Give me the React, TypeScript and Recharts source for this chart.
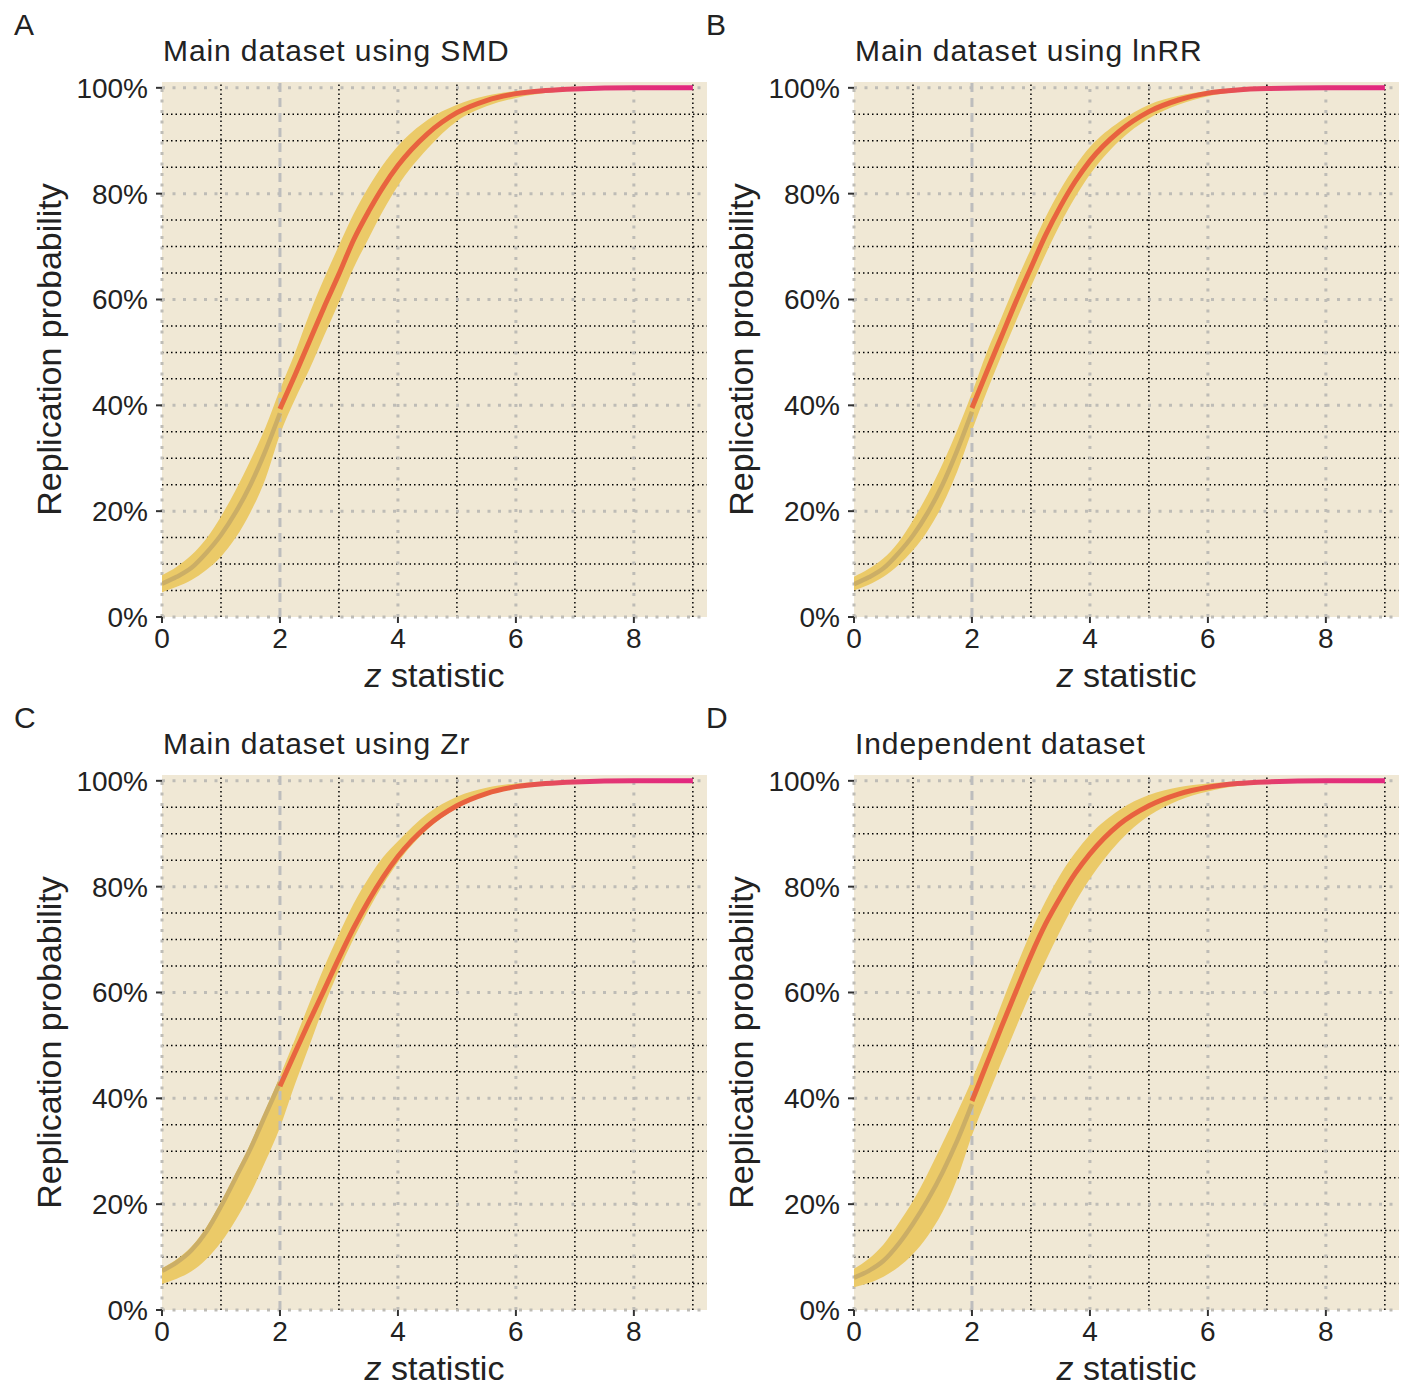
import {
  Area,
  CartesianGrid,
  ComposedChart,
  Label,
  Line,
  ReferenceLine,
  XAxis,
  YAxis,
} from "recharts";

const FONT = '"Liberation Sans", Arial, Helvetica, sans-serif';
const INK = "#222222";

// z statistic grid the curves were read at
const Z = [0, 0.25, 0.5, 0.75, 1, 1.25, 1.5, 1.75, 2, 2.25, 2.5, 2.75, 3, 3.25, 3.5, 3.75, 4, 4.5, 5, 5.5, 6, 6.5, 7, 8, 9];
const CUTOFF = 2; // index 8 in Z

const X_TICKS = [0, 2, 4, 6, 8];
const Y_TICKS = [0, 20, 40, 60, 80, 100];
const MAJOR_X = [0, 4, 6, 8];
const MINOR_X = [1, 3, 5, 7, 9];
const MAJOR_Y = [0, 20, 40, 60, 80, 100];
const MINOR_Y = [5, 10, 15, 25, 30, 35, 45, 50, 55, 65, 70, 75, 85, 90, 95];

// A: main dataset, SMD (percent)
const smdBelow = [6.3, 7.6, 9.3, 12.1, 15.5, 19.8, 25.0, 31.3, 38.5];
const smdAbove = [39.3, 45.6, 52.1, 58.6, 64.8, 71.3, 76.6, 81.3, 85.3, 91.3, 95.3, 97.6, 98.9, 99.5, 99.8, 100, 100];
const smdLow = [4.7, 5.7, 7.0, 8.9, 11.4, 15.0, 19.8, 26.0, 34.5, 41.0, 46.8, 53.2, 59.5, 66.0, 71.5, 76.8, 81.5, 88.5, 93.7, 96.5, 98.1, 99.0, 99.5, 99.9, 100];
const smdHigh = [7.9, 9.5, 11.7, 14.8, 19.0, 24.0, 29.6, 35.7, 43.0, 49.8, 57.3, 64.0, 70.2, 76.2, 81.2, 85.5, 89.0, 93.9, 96.8, 98.5, 99.4, 99.8, 99.95, 100, 100];

// B: main dataset, lnRR
const lnrrBelow = [6.2, 7.5, 9.2, 12.0, 15.4, 19.7, 25.0, 31.5, 38.8];
const lnrrAbove = [39.5, 46.3, 53.0, 59.7, 66.0, 72.2, 77.6, 82.3, 86.2, 91.8, 95.5, 97.7, 99.0, 99.6, 99.85, 100, 100];
const lnrrLow = [5.0, 6.1, 7.6, 9.8, 12.6, 16.3, 21.2, 27.5, 35.2, 42.5, 49.4, 56.0, 62.4, 68.6, 74.3, 79.3, 83.6, 90.0, 94.2, 96.8, 98.4, 99.2, 99.6, 99.9, 100];
const lnrrHigh = [7.6, 9.1, 11.1, 14.1, 18.3, 23.2, 28.9, 35.3, 42.4, 50.0, 56.6, 63.3, 69.6, 75.6, 80.8, 85.2, 88.8, 93.6, 96.8, 98.5, 99.4, 99.8, 99.95, 100, 100];

// C: main dataset, Zr
const zrBelow = [7.4, 9.0, 11.3, 14.8, 19.6, 25.0, 30.5, 36.8, 43.0];
const zrAbove = [42.3, 48.5, 54.6, 60.5, 66.5, 72.2, 77.3, 81.8, 85.7, 91.5, 95.3, 97.6, 98.9, 99.5, 99.8, 100, 100];
const zrLow = [4.9, 5.9, 7.3, 9.6, 12.8, 17.0, 22.0, 28.0, 34.5, 42.5, 50.0, 57.5, 64.2, 70.2, 75.6, 80.4, 84.6, 90.8, 94.8, 97.3, 98.7, 99.4, 99.75, 99.95, 100];
const zrHigh = [7.9, 9.6, 12.0, 15.6, 20.4, 25.8, 31.4, 37.6, 44.2, 51.0, 58.0, 64.8, 71.0, 76.8, 81.6, 85.6, 88.6, 93.8, 97.0, 98.7, 99.5, 99.85, 99.95, 100, 100];

// D: independent dataset
const indBelow = [6.1, 7.4, 9.3, 12.4, 16.3, 20.8, 26.0, 32.0, 38.9];
const indAbove = [39.5, 46.5, 53.5, 60.3, 67.0, 73.0, 78.0, 82.5, 86.2, 91.8, 95.3, 97.5, 98.8, 99.5, 99.8, 100, 100];
const indLow = [4.3, 5.1, 6.3, 8.1, 10.6, 14.0, 18.5, 24.8, 33.0, 40.0, 46.8, 53.5, 60.0, 66.0, 71.7, 77.0, 81.5, 88.6, 93.4, 96.3, 98.0, 99.0, 99.5, 99.9, 100];
const indHigh = [7.8, 9.7, 12.4, 16.3, 20.6, 25.8, 31.5, 37.3, 43.5, 50.5, 57.8, 64.8, 71.5, 77.3, 82.3, 86.4, 89.8, 94.5, 97.3, 98.8, 99.5, 99.85, 99.95, 100, 100];

interface Row {
  z: number;
  lo: number;
  hi: number;
  below: number | null;
  above: number | null;
}

function buildRows(below: number[], above: number[], lo: number[], hi: number[]): Row[] {
  const cut = Z.indexOf(CUTOFF);
  return Z.map((z, i) => ({
    z,
    lo: lo[i]!,
    hi: hi[i]!,
    below: i <= cut ? below[i]! : null,
    above: i >= cut ? above[i - cut]! : null,
  }));
}

const PANELS = [
  { id: "A", title: "Main dataset using SMD", rows: buildRows(smdBelow, smdAbove, smdLow, smdHigh), left: 0, top: 0 },
  { id: "B", title: "Main dataset using lnRR", rows: buildRows(lnrrBelow, lnrrAbove, lnrrLow, lnrrHigh), left: 692, top: 0 },
  { id: "C", title: "Main dataset using Zr", rows: buildRows(zrBelow, zrAbove, zrLow, zrHigh), left: 0, top: 693 },
  { id: "D", title: "Independent dataset", rows: buildRows(indBelow, indAbove, indLow, indHigh), left: 692, top: 693 },
];

const W = 710;
const H = 693;

function XTitle(props: any) {
  const vb = props.viewBox ?? {};
  const cx = (vb.x ?? 162) + (vb.width ?? 545) / 2;
  const y = (vb.y ?? 617) + 70;
  return (
    <text x={cx} y={y} textAnchor="middle" fontSize={34} fill={INK} fontFamily={FONT}>
      <tspan fontStyle="italic">z</tspan>
      {" statistic"}
    </text>
  );
}

function YTitle(props: any) {
  const vb = props.viewBox ?? {};
  const x = (vb.x ?? 0) + 61;
  const cy = (vb.y ?? 82) + (vb.height ?? 535) / 2;
  return (
    <text
      x={x}
      y={cy}
      textAnchor="middle"
      fontSize={34}
      fill={INK}
      fontFamily={FONT}
      transform={`rotate(-90, ${x}, ${cy})`}
    >
      Replication probability
    </text>
  );
}

function Panel({ id, title, rows, left, top }: (typeof PANELS)[number]) {
  const gradId = `above-${id}`;
  return (
    <div style={{ position: "absolute", left, top, width: W, height: H }}>
      <div
        style={{
          position: "absolute",
          left: 14,
          top: 10,
          fontFamily: FONT,
          fontSize: 30,
          lineHeight: "30px",
          color: INK,
        }}
      >
        {id}
      </div>
      <div
        style={{
          position: "absolute",
          left: 163,
          top: 36,
          fontFamily: FONT,
          fontSize: 30,
          lineHeight: "30px",
          letterSpacing: 0.9,
          color: INK,
          whiteSpace: "nowrap",
        }}
      >
        {title}
      </div>
      <ComposedChart
        width={W}
        height={H}
        data={rows}
        margin={{ top: 82, right: 3, bottom: 0, left: 0 }}
        style={{ position: "absolute", left: 0, top: 0 }}
      >
        <defs>
          <linearGradient id={gradId} x1="0" y1="0" x2="1" y2="0">
            <stop offset="0" stopColor="#E8663F" />
            <stop offset="0.55" stopColor="#E8603F" />
            <stop offset="0.75" stopColor="#E33A72" />
            <stop offset="1" stopColor="#E2267F" />
          </linearGradient>
        </defs>
        <CartesianGrid fill="#F0E8D5" fillOpacity={1} stroke="none" horizontal={false} vertical={false} />
        {MINOR_Y.map((v) => (
          <ReferenceLine key={`my${v}`} y={v} stroke="#000" strokeWidth={1.5} strokeDasharray="1.5 3" zIndex={-40} />
        ))}
        {MINOR_X.map((v) => (
          <ReferenceLine key={`mx${v}`} x={v} stroke="#000" strokeWidth={1.5} strokeDasharray="1.5 3" zIndex={-40} />
        ))}
        {MAJOR_Y.map((v) => (
          <ReferenceLine key={`My${v}`} y={v} stroke="#BEBCB6" strokeWidth={3} strokeDasharray="3 7.5" zIndex={-30} />
        ))}
        {MAJOR_X.map((v) => (
          <ReferenceLine key={`Mx${v}`} x={v} stroke="#BEBCB6" strokeWidth={3} strokeDasharray="3 7.5" zIndex={-30} />
        ))}
        <XAxis
          dataKey="z"
          type="number"
          domain={[0, 9.24]}
          ticks={X_TICKS}
          allowDataOverflow
          height={76}
          axisLine={false}
          tickSize={6}
          tickMargin={5}
          tickLine={{ stroke: "#333", strokeWidth: 2 }}
          tick={{ fill: INK, fontSize: 28, fontFamily: FONT }}
        >
          <Label content={XTitle} />
        </XAxis>
        <YAxis
          type="number"
          domain={[0, 101.1]}
          ticks={Y_TICKS}
          allowDataOverflow
          width={162}
          axisLine={false}
          tickSize={6}
          tickMargin={8}
          tickLine={{ stroke: "#333", strokeWidth: 2 }}
          tick={{ fill: INK, fontSize: 28, fontFamily: FONT }}
          tickFormatter={(v: number) => `${v}%`}
        >
          <Label content={YTitle} />
        </YAxis>
        <Area
          dataKey={(d: Row) => [d.lo, d.hi]}
          type="monotone"
          fill="#EBCA68"
          fillOpacity={1}
          stroke="none"
          isAnimationActive={false}
          activeDot={false}
          zIndex={100}
        />
        <ReferenceLine x={CUTOFF} stroke="#BDBDBD" strokeWidth={3} strokeDasharray="9 6" zIndex={150} />
        <Line
          dataKey="below"
          type="monotone"
          stroke="#CBAE66"
          strokeWidth={4.5}
          dot={false}
          activeDot={false}
          isAnimationActive={false}
          zIndex={400}
        />
        <Line
          dataKey="above"
          type="monotone"
          stroke={`url(#${gradId})`}
          strokeWidth={5}
          dot={false}
          activeDot={false}
          isAnimationActive={false}
          zIndex={410}
        />
      </ComposedChart>
    </div>
  );
}

export default function App() {
  return (
    <div style={{ position: "absolute", left: 0, top: 0, width: 1406, height: 1385, background: "#fff" }}>
      {PANELS.map((p) => (
        <Panel key={p.id} {...p} />
      ))}
    </div>
  );
}
